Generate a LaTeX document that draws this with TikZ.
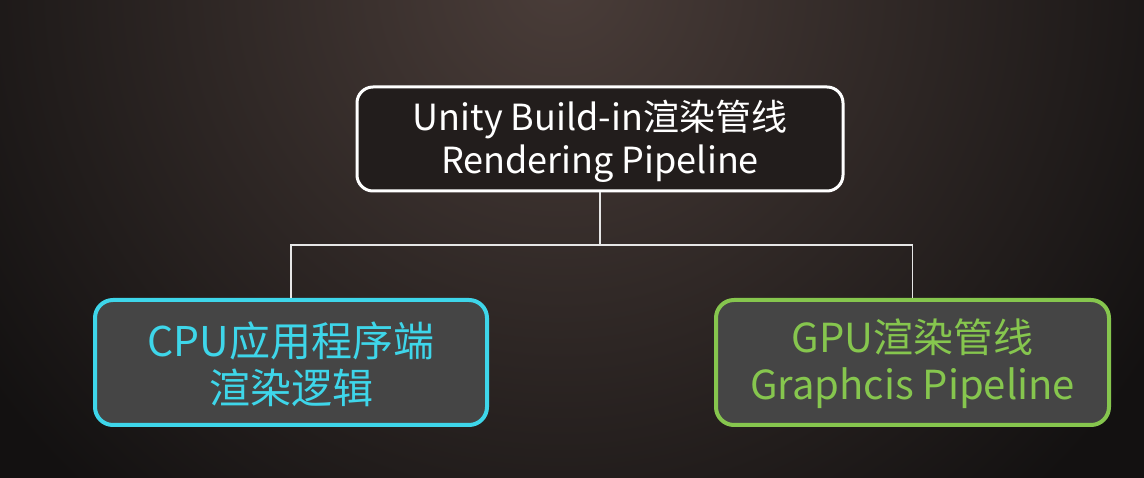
\documentclass[tikz,border=0pt]{standalone}
\usepackage{fontspec}
\setmainfont{Noto Sans CJK SC}
\definecolor{bgdark}{HTML}{131111}
\definecolor{bgglow}{HTML}{4A3D39}
\definecolor{topfill}{HTML}{221D1C}
\definecolor{boxfill}{HTML}{454545}
\definecolor{cyanc}{HTML}{3ED6EA}
\definecolor{greenc}{HTML}{86C64E}
\definecolor{linec}{HTML}{E6E6E6}
\tikzset{
  topbox/.style={draw=white, line width=3pt, fill=topfill, rounded corners=16pt,
    minimum width=486pt, minimum height=104pt, text=white, align=center,
    font=\fontsize{36}{43}\selectfont, inner sep=0pt},
  cpubox/.style={draw=cyanc, line width=4pt, fill=boxfill, rounded corners=18pt,
    minimum width=392pt, minimum height=125pt, text=cyanc, align=center,
    font=\fontsize{41}{47}\selectfont, inner sep=0pt},
  gpubox/.style={draw=greenc, line width=4pt, fill=boxfill, rounded corners=18pt,
    minimum width=393pt, minimum height=125pt, text=greenc, align=center,
    font=\fontsize{40}{47}\selectfont, inner sep=0pt},
  link/.style={draw=linec, line width=1.5pt}
}
\begin{document}
\begin{tikzpicture}[x=1pt,y=-1pt]
\useasboundingbox (0,0) rectangle (1144,478);
\fill[bgdark] (0,0) rectangle (1144,478);
\begin{scope}
\clip (0,0) rectangle (1144,478);
\shade[inner color=bgglow, outer color=bgdark] (560,-20) circle (700);
\end{scope}
\node[topbox] (top) at (600,139) {};
\node[text=white, align=center, font=\fontsize{36}{43}\selectfont, inner sep=0pt] (toptext) at (600,141) {Unity Build-in渲染管线\\Rendering Pipeline};
\node[cpubox] (cpu) at (291,362.5) {};
\node[text=cyanc, align=center, font=\fontsize{41}{47}\selectfont, inner sep=0pt] (cputext) at (291,364) {CPU应用程序端\\渲染逻辑};
\node[gpubox] (gpu) at (912.5,362.5) {};
\node[text=greenc, align=center, font=\fontsize{40}{47}\selectfont, inner sep=0pt] (gputext) at (912.5,364) {GPU渲染管线\\Graphcis Pipeline};
\coordinate (j) at (600,245);
\draw[link] (top.south) -- (j);
\draw[link] (j) -| (cpu.north);
\draw[link] (j) -| (gpu.north);
\end{tikzpicture}
\end{document}
